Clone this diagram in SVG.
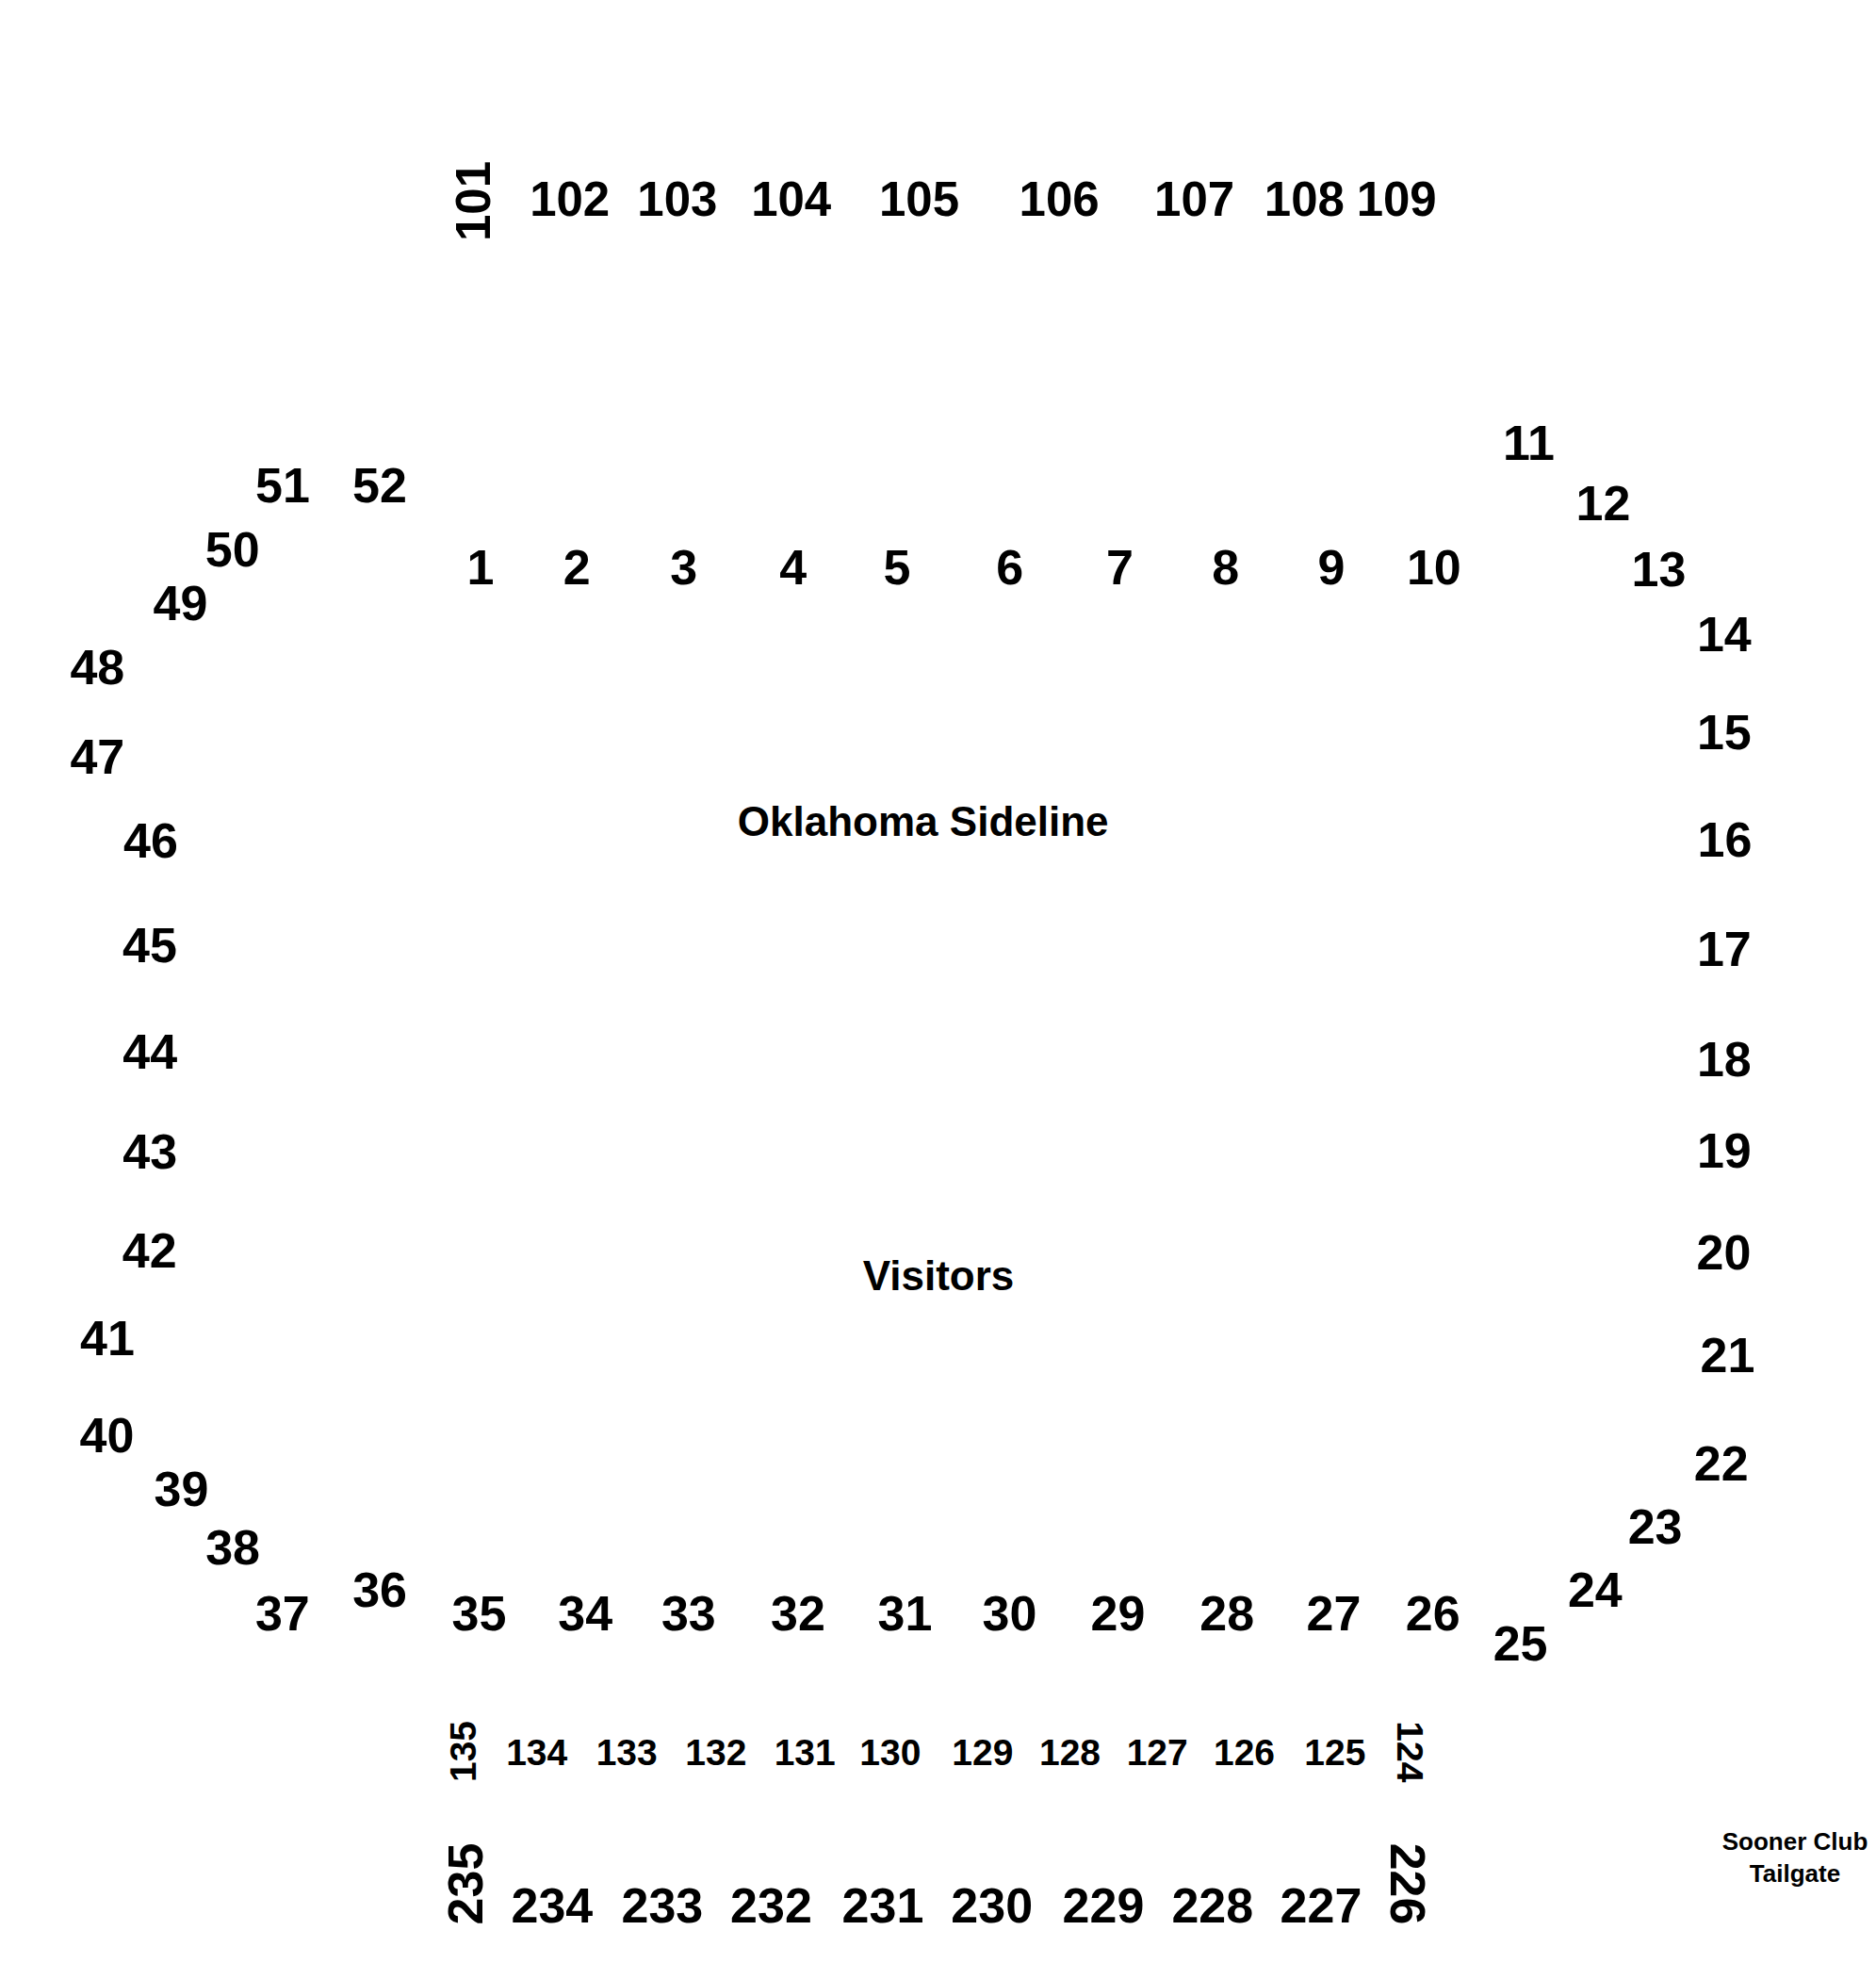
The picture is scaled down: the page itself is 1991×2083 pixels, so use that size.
<svg xmlns="http://www.w3.org/2000/svg" width="1991" height="2083" viewBox="0 0 1991 2083">
<style>
text{font-family:"Liberation Sans",Arial,sans-serif;font-weight:bold;fill:#000;text-anchor:middle}
.m{font-size:52px}
.t{font-size:51px}
.s{font-size:39px}
.b{font-size:52px}
.l{font-size:44px}
.c{font-size:26px}
</style>
<rect width="1991" height="2083" fill="#fff"/>
<g id="connectors"/>
<g id="labels">
<g id="s101"><text class="t" transform="translate(520,213.5) rotate(-90)">101</text></g>
<g id="s102"><text class="t" x="604.7" y="228.6">102</text></g>
<g id="s103"><text class="t" x="718.9" y="228.6">103</text></g>
<g id="s104"><text class="t" x="839.7" y="228.6">104</text></g>
<g id="s105"><text class="t" x="975.5" y="228.6">105</text></g>
<g id="s106"><text class="t" x="1124.1" y="228.6">106</text></g>
<g id="s107"><text class="t" x="1267.6" y="228.6">107</text></g>
<g id="s108"><text class="t" x="1384.4" y="228.6">108</text></g>
<g id="s109"><text class="t" x="1482.2" y="228.6">109</text></g>

<g id="s1"><text class="m" x="510" y="620">1</text></g>
<g id="s2"><text class="m" x="612.3" y="620">2</text></g>
<g id="s3"><text class="m" x="725.7" y="620">3</text></g>
<g id="s4"><text class="m" x="841.8" y="620">4</text></g>
<g id="s5"><text class="m" x="952" y="620">5</text></g>
<g id="s6"><text class="m" x="1071.7" y="620">6</text></g>
<g id="s7"><text class="m" x="1188.4" y="620">7</text></g>
<g id="s8"><text class="m" x="1300.7" y="620">8</text></g>
<g id="s9"><text class="m" x="1413" y="620">9</text></g>
<g id="s10"><text class="m" x="1521.8" y="620">10</text></g>
<g id="s11"><text class="m" x="1622.5" y="488.4">11</text></g>
<g id="s12"><text class="m" x="1701.5" y="551.8">12</text></g>
<g id="s13"><text class="m" x="1760.5" y="621.9">13</text></g>
<g id="s14"><text class="m" x="1829.8" y="691">14</text></g>
<g id="s15"><text class="m" x="1829.8" y="795">15</text></g>
<g id="s16"><text class="m" x="1830.4" y="908.9">16</text></g>
<g id="s17"><text class="m" x="1829.8" y="1025">17</text></g>
<g id="s18"><text class="m" x="1829.8" y="1141.5">18</text></g>
<g id="s19"><text class="m" x="1829.8" y="1238.8">19</text></g>
<g id="s20"><text class="m" x="1829.4" y="1346.9">20</text></g>
<g id="s21"><text class="m" x="1833.5" y="1456.3">21</text></g>
<g id="s22"><text class="m" x="1826.7" y="1571.4">22</text></g>
<g id="s23"><text class="m" x="1756.6" y="1638.4">23</text></g>
<g id="s24"><text class="m" x="1692.8" y="1705.4">24</text></g>
<g id="s25"><text class="m" x="1613.6" y="1761.6">25</text></g>
<g id="s26"><text class="m" x="1520.7" y="1729.5">26</text></g>
<g id="s27"><text class="m" x="1415.5" y="1729.5">27</text></g>
<g id="s28"><text class="m" x="1302.2" y="1729.5">28</text></g>
<g id="s29"><text class="m" x="1186.4" y="1729.5">29</text></g>
<g id="s30"><text class="m" x="1071.5" y="1729.5">30</text></g>
<g id="s31"><text class="m" x="960.5" y="1729.5">31</text></g>
<g id="s32"><text class="m" x="846.9" y="1729.5">32</text></g>
<g id="s33"><text class="m" x="730.8" y="1729.5">33</text></g>
<g id="s34"><text class="m" x="621.2" y="1729.5">34</text></g>
<g id="s35"><text class="m" x="508.5" y="1729.5">35</text></g>
<g id="s36"><text class="m" x="403.1" y="1705">36</text></g>
<g id="s37"><text class="m" x="299.8" y="1729.5">37</text></g>
<g id="s38"><text class="m" x="247.1" y="1660.3">38</text></g>
<g id="s39"><text class="m" x="192.4" y="1598.2">39</text></g>
<g id="s40"><text class="m" x="113.4" y="1541">40</text></g>
<g id="s41"><text class="m" x="114" y="1438.4">41</text></g>
<g id="s42"><text class="m" x="158.7" y="1344.6">42</text></g>
<g id="s43"><text class="m" x="159.2" y="1239.7">43</text></g>
<g id="s44"><text class="m" x="159.2" y="1134">44</text></g>
<g id="s45"><text class="m" x="159" y="1020.5">45</text></g>
<g id="s46"><text class="m" x="160" y="910">46</text></g>
<g id="s47"><text class="m" x="103.3" y="821">47</text></g>
<g id="s48"><text class="m" x="103.3" y="726">48</text></g>
<g id="s49"><text class="m" x="191.5" y="657.6">49</text></g>
<g id="s50"><text class="m" x="246.7" y="601">50</text></g>
<g id="s51"><text class="m" x="300" y="533">51</text></g>
<g id="s52"><text class="m" x="403" y="533">52</text></g>

<g id="s135"><text class="s" transform="translate(505.4,1858.5) rotate(-90)">135</text></g>
<g id="s134"><text class="s" x="569.7" y="1873.2">134</text></g>
<g id="s133"><text class="s" x="665.2" y="1873.2">133</text></g>
<g id="s132"><text class="s" x="759.8" y="1873.2">132</text></g>
<g id="s131"><text class="s" x="854.2" y="1873.2">131</text></g>
<g id="s130"><text class="s" x="944.9" y="1873.2">130</text></g>
<g id="s129"><text class="s" x="1042.9" y="1873.2">129</text></g>
<g id="s128"><text class="s" x="1135.5" y="1873.2">128</text></g>
<g id="s127"><text class="s" x="1228.2" y="1873.2">127</text></g>
<g id="s126"><text class="s" x="1320.5" y="1873.2">126</text></g>
<g id="s125"><text class="s" x="1416.8" y="1873.2">125</text></g>
<g id="s124"><text class="s" transform="translate(1482.6,1858.8) rotate(90)">124</text></g>

<g id="s235"><text class="b" transform="translate(512,1999) rotate(-90)">235</text></g>
<g id="s234"><text class="b" x="585.9" y="2040">234</text></g>
<g id="s233"><text class="b" x="702.9" y="2040">233</text></g>
<g id="s232"><text class="b" x="818.5" y="2040">232</text></g>
<g id="s231"><text class="b" x="937" y="2040">231</text></g>
<g id="s230"><text class="b" x="1052.7" y="2040">230</text></g>
<g id="s229"><text class="b" x="1171" y="2040">229</text></g>
<g id="s228"><text class="b" x="1286.8" y="2040">228</text></g>
<g id="s227"><text class="b" x="1402" y="2040">227</text></g>
<g id="s226"><text class="b" transform="translate(1475.9,1999) rotate(90)">226</text></g>

<g id="oklahoma-sideline"><text class="l" x="979.7" y="886.6">Oklahoma Sideline</text></g>
<g id="visitors"><text class="l" x="996" y="1369.2">Visitors</text></g>
<g id="sooner-club-tailgate"><text class="c" x="1905" y="1962.7">Sooner Club</text><text class="c" x="1905" y="1996.7">Tailgate</text></g>
</g>
</svg>
